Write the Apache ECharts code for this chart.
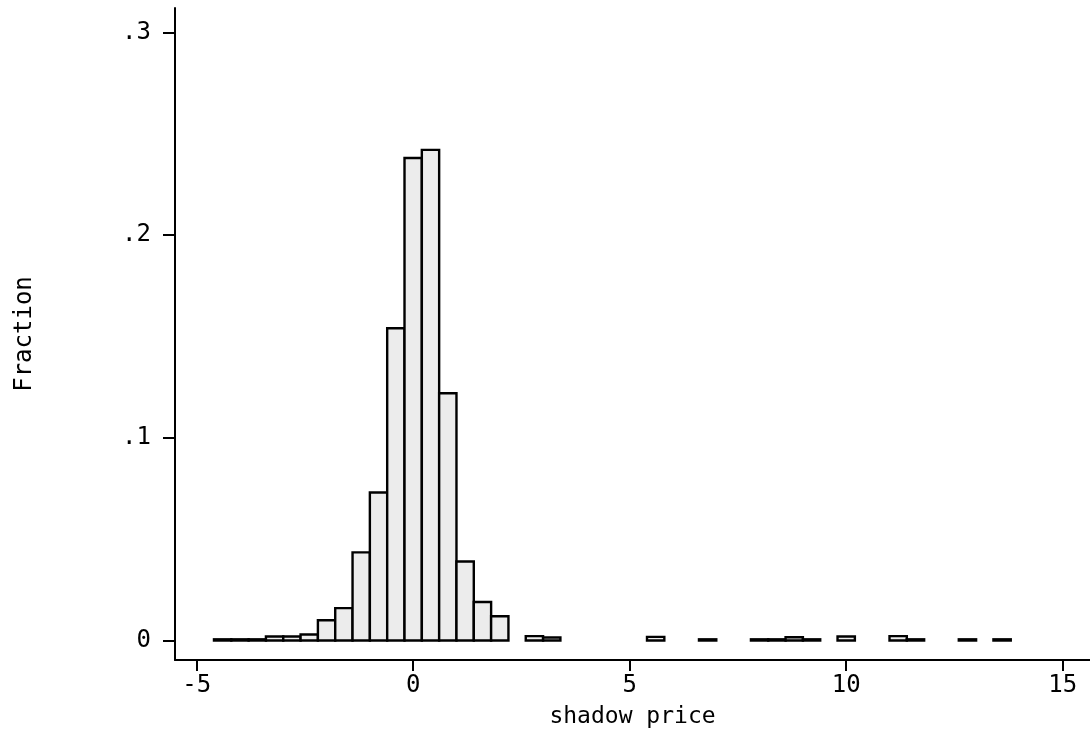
<!DOCTYPE html>
<html>
<head>
<meta charset="utf-8">
<script src="https://cdn.jsdelivr.net/npm/echarts@6/dist/echarts.min.js"></script>
<style>html,body{margin:0;padding:0;background:#fff;}#c{width:1090px;height:732px;}</style>
</head>
<body>
<div id="c"></div>
<script>
// Histogram bins (center of each 0.4-wide bin) and fraction of observations
const BIN_WIDTH = 0.4;
const binCenters = [-4.4, -4.0, -3.6, -3.2, -2.8, -2.4, -2.0, -1.6, -1.2, -0.8, -0.4, 0.0, 0.4, 0.8, 1.2, 1.6, 2.0,
                    2.8, 3.2, 5.6, 6.8, 8.0, 8.4, 8.8, 9.2, 10.0, 11.2, 11.6, 12.8, 13.6];
const fractions  = [0.0006, 0.0006, 0.0006, 0.002, 0.002, 0.003, 0.010, 0.016, 0.0435, 0.073, 0.154, 0.238, 0.242, 0.122, 0.039, 0.019, 0.012,
                    0.0022, 0.0015, 0.0018, 0.0006, 0.0006, 0.0006, 0.0016, 0.0006, 0.002, 0.0022, 0.0006, 0.0006, 0.0006];
const xTicks = [-5, 0, 5, 10, 15];
const yTicks = [0, 0.1, 0.2, 0.3];

const FONT = 'DejaVu Sans Mono';
const chart = echarts.init(document.getElementById('c'));
const data = binCenters.map((c, i) => [c, fractions[i]]);

chart.setOption({
  animation: false,
  backgroundColor: '#fff',
  grid: { left: 175, right: 0, top: 8, bottom: 72, containLabel: false, outerBoundsMode: 'none' },
  xAxis: {
    type: 'value', min: -5.5, max: 15.63,
    name: 'shadow price', nameLocation: 'middle', nameGap: 46,
    nameTextStyle: { fontFamily: FONT, fontSize: 23, color: '#000' },
    axisLine: { show: true, onZero: false, lineStyle: { color: '#000', width: 2 } },
    axisTick: { show: true, length: 11, lineStyle: { color: '#000', width: 2 }, customValues: xTicks },
    axisLabel: { fontFamily: FONT, fontSize: 24, color: '#000', margin: 14, customValues: xTicks,
                 formatter: v => String(v) },
    splitLine: { show: false }
  },
  yAxis: {
    type: 'value', min: -0.0096, max: 0.312,
    name: 'Fraction', nameLocation: 'middle', nameGap: 138, nameRotate: 90,
    nameTextStyle: { fontFamily: FONT, fontSize: 24, color: '#000' },
    axisLine: { show: true, onZero: false, lineStyle: { color: '#000', width: 2 } },
    axisTick: { show: true, length: 12, lineStyle: { color: '#000', width: 2 }, customValues: yTicks },
    axisLabel: { fontFamily: FONT, fontSize: 24, color: '#000', margin: 24, customValues: yTicks,
                 formatter: v => (v === 0 ? '0' : String(Math.round(v * 10) / 10).replace(/^0/, '')) },
    splitLine: { show: false }
  },
  series: [{
    type: 'custom',
    data: data,
    renderItem: function (params, api) {
      const c = api.value(0), v = api.value(1);
      const p1 = api.coord([c - BIN_WIDTH / 2, v]);
      const p2 = api.coord([c + BIN_WIDTH / 2, 0]);
      return {
        type: 'rect',
        shape: { x: p1[0], y: p1[1], width: p2[0] - p1[0], height: p2[1] - p1[1] },
        style: { fill: '#ececec', stroke: '#000', lineWidth: 2.4 }
      };
    }
  }]
});
</script>
</body>
</html>
